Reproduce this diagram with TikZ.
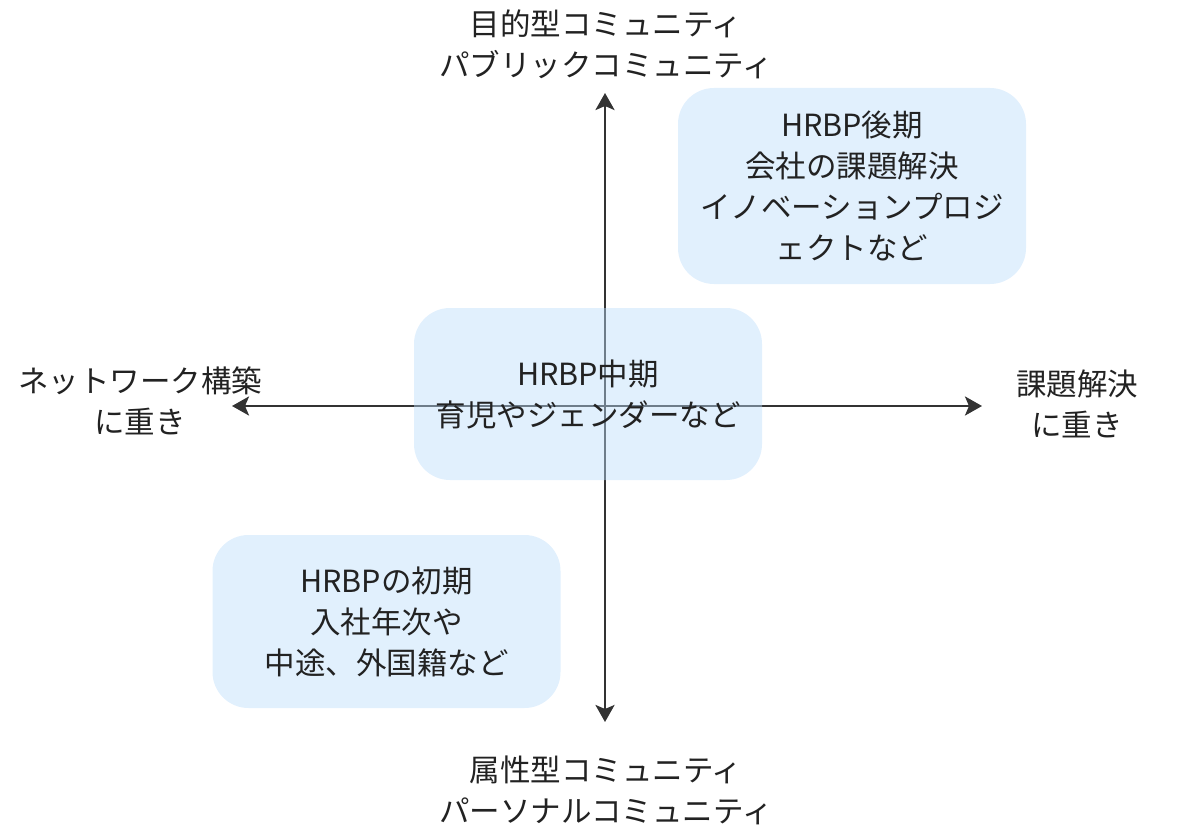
\documentclass[tikz,border=0pt]{standalone}
\usepackage{fontspec}
\setmainfont{Noto Sans CJK JP}
\usetikzlibrary{arrows.meta,positioning}
\definecolor{boxblue}{RGB}{186,220,250}
\definecolor{axisgray}{RGB}{51,51,51}
\definecolor{inkgray}{RGB}{34,34,34}
\begin{document}
\begin{tikzpicture}[x=1pt,y=-1pt]
      \useasboundingbox (0,0) rectangle (1198,834);
      \coordinate (T) at (605,93);
      \coordinate (B) at (605,722);
      \coordinate (L) at (232,406);
      \coordinate (R) at (982,406);
      \begin{scope}
        [every edge/.style={draw= axisgray, line width=2.8pt},
        >={Stealth[length=17pt,width=19pt,inset=4pt]}]
        \path (L) edge[<->] (R);
        \path (B) edge[<->] (T);
      \end{scope}
      \begin{scope}[every node/.style={text=inkgray,align=center,
          font=\fontsize{30.5}{41}\selectfont}]
        \node (top) at (606,44) {目的型コミュニティ\\パブリックコミュニティ};
        \node (bottom) at (606,790) {属性型コミュニティ\\パーソナルコミュニティ};
        \node (left) at (140,401) {ネットワーク構築\\に重き};
        \node (right) at (1077,404) {課題解決\\に重き};
      \end{scope}
      \begin{scope}[every node/.style={text=inkgray,align=center,
          font=\fontsize{30.5}{41}\selectfont,fill=boxblue,fill opacity=0.44,
          text opacity=1,rounded corners=36pt,minimum width=348pt}]
        \node (late) [minimum height=196pt] at (852,186)
          {HRBP後期\\会社の課題解決\\イノベーションプロジ\\ェクトなど};
        \node (mid) [minimum height=172pt] at (588,394)
          {HRBP中期\\育児やジェンダーなど};
        \node (early) [minimum height=173pt] at (386.5,621.5)
          {HRBPの初期\\入社年次や\\中途、外国籍など};
      \end{scope}
    \end{tikzpicture}
\end{document}
